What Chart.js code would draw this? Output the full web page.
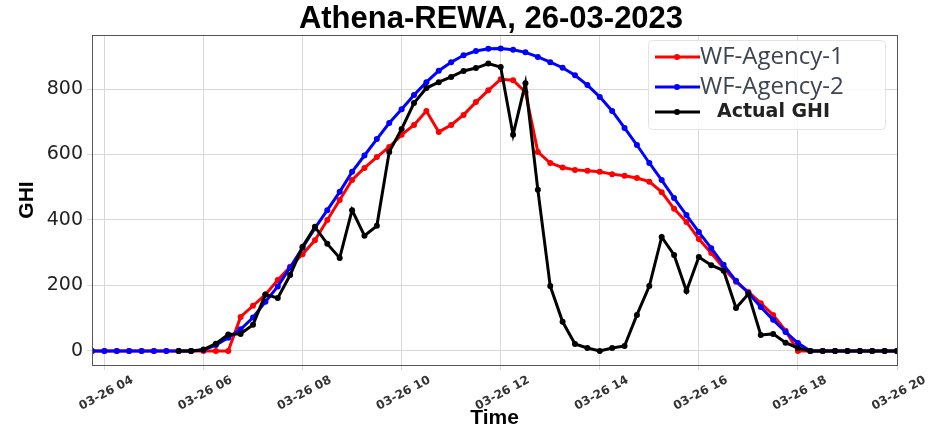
<!DOCTYPE html>
<html><head><meta charset="utf-8">
<script src="https://cdn.jsdelivr.net/npm/chart.js@4.4.0/dist/chart.umd.min.js"></script>
<style>html,body{margin:0;padding:0;background:#fff;}#wrap{position:relative;width:943px;height:431px;}</style>
</head><body><div id="wrap"><canvas id="c" width="943" height="431"></canvas></div>
<script>
const chartTitle = 'Athena-REWA, 26-03-2023';
const seriesNames = ['WF-Agency-1', 'WF-Agency-2', 'Actual GHI'];
const times = ['03:45','04:00','04:15','04:30','04:45','05:00','05:15','05:30','05:45',
  '06:00','06:15','06:30','06:45','07:00','07:15','07:30','07:45',
  '08:00','08:15','08:30','08:45','09:00','09:15','09:30','09:45',
  '10:00','10:15','10:30','10:45','11:00','11:15','11:30','11:45',
  '12:00','12:15','12:30','12:45','13:00','13:15','13:30','13:45',
  '14:00','14:15','14:30','14:45','15:00','15:15','15:30','15:45',
  '16:00','16:15','16:30','16:45','17:00','17:15','17:30','17:45',
  '18:00','18:15','18:30','18:45','19:00','19:15','19:30','19:45','20:00'];
const agency1 = [0,0,0,0,0,0,0,0,0,
  0,0,0,104,138,172,217,257,
  295,338,400,461,522,559,592,623,
  660,690,733,669,690,721,760,796,
  830,827,790,608,574,560,553,550,
  547,540,535,528,517,485,434,394,
  342,299,253,211,180,146,110,62,
  0,0,0,0,0,0,0,0,0];
const agency2 = [0,0,0,0,0,0,0,0,0,
  3,18,40,66,102,150,197,255,
  315,375,430,486,547,597,647,696,
  738,782,821,856,882,903,916,923,
  924,920,912,898,882,865,842,812,
  776,733,681,629,574,522,467,415,
  363,314,263,214,177,134,95,58,
  24,0,0,0,0,0,0,0,0];
const actual = [null,null,null,null,null,null,null,0,0,
  4,22,50,52,80,172,162,232,
  318,379,327,284,430,352,382,608,
  678,757,803,821,837,855,864,878,
  867,660,818,492,198,89,21,9,
  0,9,15,110,198,348,293,183,
  287,262,245,131,174,49,52,25,
  9,0,0,0,0,0,0,0,0];
const tickHours = [4, 6, 8, 10, 12, 14, 16, 18, 20];
const tickLabels = ['03-26 04','03-26 06','03-26 08','03-26 10','03-26 12','03-26 14','03-26 16','03-26 18','03-26 20'];
const yTicks = [0, 200, 400, 600, 800];

const hrs = times.map(t => { const [h, m] = t.split(':').map(Number); return h + m / 60; });
const pts = arr => arr.map((v, i) => ({x: hrs[i], y: v}));
const colors = ['#ff0000', '#0000ff', '#000000'];

const frame = {
  id: 'frame',
  afterDraw(chart) {
    const {ctx, chartArea: a} = chart;
    ctx.save();
    ctx.strokeStyle = '#555';
    ctx.lineWidth = 1;
    ctx.strokeRect(a.left + 0.5, a.top + 0.5, a.right - a.left, a.bottom - a.top);
    // title
    ctx.fillStyle = '#000';
    ctx.font = 'bold 31px "Liberation Sans", Arial, sans-serif';
    ctx.textAlign = 'center';
    ctx.textBaseline = 'middle';
    ctx.fillText(chartTitle, 491, 19);
    // legend
    const lx = 648, ly = 40, lw = 237, lh = 89;
    ctx.fillStyle = 'rgba(255,255,255,0.85)';
    ctx.strokeStyle = '#e3e3e3';
    ctx.beginPath();
    if (ctx.roundRect) ctx.roundRect(lx + 0.5, ly + 0.5, lw, lh, 4); else ctx.rect(lx + 0.5, ly + 0.5, lw, lh);
    ctx.fill(); ctx.stroke();
    const rows = [57, 87, 112];
    const textX = [700, 700, 717];
    const fonts = ['24px "Open Sans", sans-serif', '24px "Open Sans", sans-serif', 'bold 19px "DejaVu Sans", sans-serif'];
    const tcol = ['#3d4550', '#3d4550', '#222'];
    rows.forEach((y, i) => {
      ctx.strokeStyle = colors[i];
      ctx.lineWidth = 3;
      ctx.beginPath(); ctx.moveTo(655, y); ctx.lineTo(700, y); ctx.stroke();
      ctx.fillStyle = colors[i];
      ctx.beginPath(); ctx.arc(677, y, 3, 0, Math.PI * 2); ctx.fill();
      ctx.fillStyle = tcol[i];
      ctx.font = fonts[i];
      ctx.textAlign = 'left';
      ctx.textBaseline = 'middle';
      ctx.fillText(seriesNames[i], textX[i], y);
    });
    ctx.restore();
  }
};

const mk = (label, data, color, order) => ({
  label, data: pts(data), borderColor: color, backgroundColor: color,
  borderWidth: 3, pointRadius: 3, pointHoverRadius: 3, pointBorderWidth: 0,
  tension: 0, order, spanGaps: false
});

new Chart(document.getElementById('c'), {
  type: 'line',
  data: { datasets: [
    mk(seriesNames[0], agency1, colors[0], 2),
    mk(seriesNames[1], agency2, colors[1], 1),
    mk(seriesNames[2], actual, colors[2], 0)
  ]},
  options: {
    responsive: false, animation: false, devicePixelRatio: 1,
    layout: { padding: { top: 35, right: 46, left: 0, bottom: 0 } },
    plugins: { legend: { display: false }, title: { display: false }, tooltip: { enabled: false } },
    scales: {
      x: {
        type: 'linear', min: 3.75, max: 20,
        afterBuildTicks: s => { s.ticks = tickHours.map(v => ({value: v})); },
        ticks: {
          autoSkip: false, maxRotation: 28, minRotation: 28,
          font: { size: 12, family: '"DejaVu Sans", sans-serif', weight: 'bold' }, color: '#333',
          labelOffset: 28, padding: 3,
          callback: (v) => tickLabels[tickHours.indexOf(v)]
        },
        grid: { color: '#d8d8d8', lineWidth: 1, drawTicks: true, tickLength: 5 },
        border: { display: true, color: '#555' },
        title: { display: true, text: 'Time', color: '#000',
          font: { size: 21, weight: 'bold', family: '"Liberation Sans", Arial, sans-serif' },
          padding: { top: 0, bottom: 0 } },
        afterFit: s => { s.height = 66; }
      },
      y: {
        min: -43, max: 965,
        afterBuildTicks: s => { s.ticks = yTicks.map(v => ({value: v})); },
        ticks: { font: { size: 19, family: '"DejaVu Sans", sans-serif' }, color: '#222', padding: 4 },
        grid: { color: '#d8d8d8', lineWidth: 1, drawTicks: true, tickLength: 5 },
        border: { display: true, color: '#555' },
        title: { display: true, text: 'GHI', color: '#000',
          font: { size: 21, weight: 'bold', family: '"Liberation Sans", Arial, sans-serif' },
          padding: { top: 15, bottom: 0 } },
        afterFit: s => { s.width = 92; }
      }
    }
  },
  plugins: [frame]
});
</script></body></html>
